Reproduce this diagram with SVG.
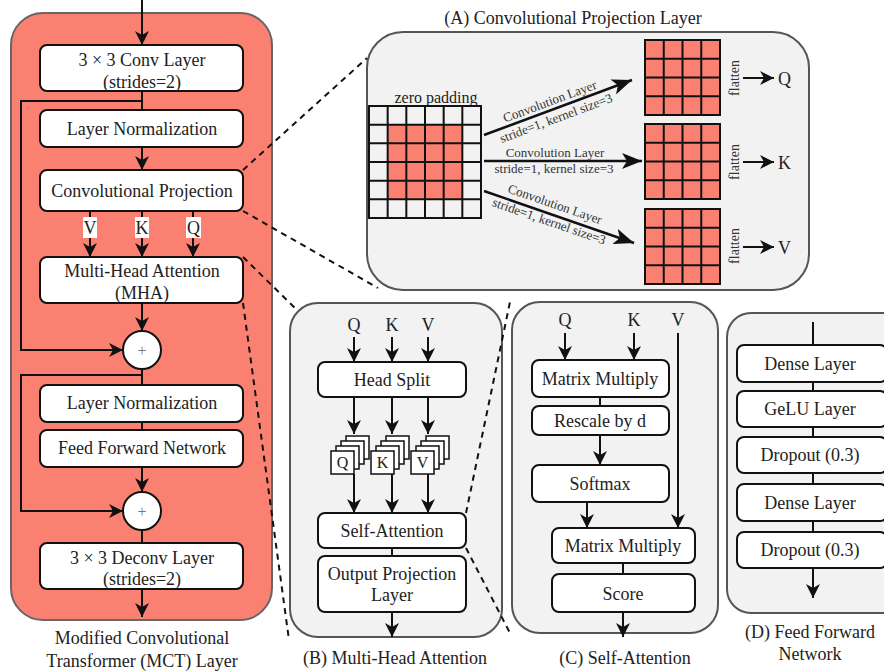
<svg xmlns="http://www.w3.org/2000/svg" width="884" height="671" viewBox="0 0 884 671">
<defs>
<style>
text{font-family:"Liberation Serif","Times New Roman",serif;font-size:18px;fill:#222;text-anchor:middle}
.box{fill:#fff;stroke:#111;stroke-width:2}
.panel{fill:#f2f2f2;stroke:#555;stroke-width:2}
.ln{fill:none;stroke:#111;stroke-width:2}
.arr{fill:none;stroke:#111;stroke-width:2;marker-end:url(#ah)}
.big{fill:none;stroke:#111;stroke-width:2.5;marker-end:url(#ahb)}
.dash{fill:none;stroke:#111;stroke-width:2;stroke-dasharray:6 5}
.sm{font-size:13px;fill:#333}
.grid{fill:none;stroke:#111;stroke-width:2}
.sq{fill:#fff;stroke:#111;stroke-width:1.5}
</style>
<marker id="ah" viewBox="0 0 14 14" refX="14" refY="7" markerWidth="14" markerHeight="14" markerUnits="userSpaceOnUse" orient="auto"><path d="M0,0 L14,7 L0,14 L4,7 z" fill="#111"/></marker>
<marker id="ahb" viewBox="0 0 20 16" refX="20" refY="8" markerWidth="20" markerHeight="16" markerUnits="userSpaceOnUse" orient="auto"><path d="M0,0 L20,8 L0,16 L5,8 z" fill="#111"/></marker>
<g id="stack">
<rect class="sq" x="15" y="-15" width="23" height="23"/>
<rect class="sq" x="10" y="-10" width="23" height="23"/>
<rect class="sq" x="5" y="-5" width="23" height="23"/>
<rect class="sq" x="0" y="0" width="23" height="23"/>
</g>
</defs>

<!-- Left panel: MCT layer -->
<g id="mct-panel">
<rect x="11" y="13" width="261" height="607" rx="32" fill="#FA8072" stroke="#666" stroke-width="2"/>
<text x="142" y="644">Modified Convolutional</text>
<text x="142" y="667">Transformer (MCT) Layer</text>
</g>
<g id="connectors-left">
<path class="arr" d="M142,0 V45"/>
<path class="ln" d="M142,91 V110"/>
<path class="arr" d="M142,91 V101 H21 V350 H123"/>
<path class="arr" d="M142,147 V170"/>
<path class="arr" d="M90,211 V257"/>
<path class="arr" d="M142,211 V257"/>
<path class="arr" d="M193,211 V257"/>
<path class="arr" d="M142,303 V331"/>
<path class="ln" d="M142,369 V385"/>
<path class="arr" d="M142,369 V375 H21 V511 H123"/>
<path class="ln" d="M142,422 V430"/>
<path class="arr" d="M142,467 V492"/>
<path class="ln" d="M142,530 V543"/>
<path class="arr" d="M142,589 V617"/>
<rect x="83" y="217" width="14" height="21" fill="#fff"/>
<rect x="135" y="217" width="14" height="21" fill="#fff"/>
<rect x="186" y="217" width="15" height="21" fill="#fff"/>
<text x="90" y="234">V</text>
<text x="142" y="234">K</text>
<text x="193.5" y="234">Q</text>
</g>
<g id="conv-layer"><rect class="box" x="40" y="45" width="203" height="46" rx="7"/><text x="142" y="66">3 × 3 Conv Layer</text><text x="142" y="88">(strides=2)</text></g>
<g id="ln1"><rect class="box" x="40" y="110" width="203" height="37" rx="7"/><text x="142" y="135">Layer Normalization</text></g>
<g id="conv-proj"><rect class="box" x="40" y="170" width="203" height="41" rx="7"/><text x="142" y="197">Convolutional Projection</text></g>
<g id="mha"><rect class="box" x="40" y="257" width="203" height="46" rx="7"/><text x="142" y="277">Multi-Head Attention</text><text x="142" y="299">(MHA)</text></g>
<g id="add1"><circle cx="142" cy="350" r="19" fill="#fff" stroke="#111" stroke-width="2"/><text x="142" y="356" style="font-size:16px;fill:#777">+</text></g>
<g id="ln2"><rect class="box" x="40" y="385" width="203" height="37" rx="7"/><text x="142" y="409">Layer Normalization</text></g>
<g id="ffn"><rect class="box" x="40" y="430" width="203" height="37" rx="7"/><text x="142" y="454">Feed Forward Network</text></g>
<g id="add2"><circle cx="142" cy="511" r="19" fill="#fff" stroke="#111" stroke-width="2"/><text x="142" y="517" style="font-size:16px;fill:#777">+</text></g>
<g id="deconv"><rect class="box" x="40" y="543" width="203" height="46" rx="7"/><text x="142" y="564">3 × 3 Deconv Layer</text><text x="142" y="585">(strides=2)</text></g>

<!-- Panel A -->
<g id="panel-a">
<text x="573" y="24">(A) Convolutional Projection Layer</text>
<rect class="panel" x="367" y="32" width="442" height="258" rx="36"/>
<text x="436" y="103" style="font-size:16px">zero padding</text>
<rect x="369" y="106" width="112" height="112" fill="#f2f2f2"/>
<rect x="387.67" y="124.67" width="74.67" height="74.67" fill="#FA8072"/>
<path class="grid" d="M369,106 H481 V218 H369 Z M387.67,106 V218 M406.33,106 V218 M425,106 V218 M443.67,106 V218 M462.33,106 V218 M369,124.67 H481 M369,143.33 H481 M369,162 H481 M369,180.67 H481 M369,199.33 H481"/>
<g id="grid-q"><rect x="645" y="40" width="75" height="75" fill="#FA8072"/><path class="grid" d="M645,40 H720 V115 H645 Z M663.75,40 V115 M682.5,40 V115 M701.25,40 V115 M645,58.75 H720 M645,77.5 H720 M645,96.25 H720"/></g>
<g id="grid-k"><rect x="645" y="124" width="75" height="75" fill="#FA8072"/><path class="grid" d="M645,124 H720 V199 H645 Z M663.75,124 V199 M682.5,124 V199 M701.25,124 V199 M645,142.75 H720 M645,161.5 H720 M645,180.25 H720"/></g>
<g id="grid-v"><rect x="645" y="209" width="75" height="75" fill="#FA8072"/><path class="grid" d="M645,209 H720 V284 H645 Z M663.75,209 V284 M682.5,209 V284 M701.25,209 V284 M645,227.75 H720 M645,246.5 H720 M645,265.25 H720"/></g>
<path class="big" d="M484,135 L632,80"/>
<path class="big" d="M484,161 L642,161"/>
<path class="big" d="M484,191 L634,243"/>
<g transform="translate(553,110) rotate(-20.4)"><text class="sm" x="0" y="-5">Convolution Layer</text><text class="sm" x="0" y="13">stride=1, kernel size=3</text></g>
<text class="sm" x="555" y="157">Convolution Layer</text>
<text class="sm" x="554" y="173">stride=1, kernel size=3</text>
<g transform="translate(552,213) rotate(19.1)"><text class="sm" x="0" y="-5">Convolution Layer</text><text class="sm" x="0" y="13">stride=1, kernel size=3</text></g>
<text transform="translate(739,78) rotate(-90)" style="font-size:14px;fill:#333">flatten</text>
<text transform="translate(739,162) rotate(-90)" style="font-size:14px;fill:#333">flatten</text>
<text transform="translate(739,246) rotate(-90)" style="font-size:14px;fill:#333">flatten</text>
<path class="arr" d="M743,78 H774"/>
<path class="arr" d="M743,162 H774"/>
<path class="arr" d="M743,247 H774"/>
<text x="778" y="85" style="text-anchor:start">Q</text>
<text x="778" y="169" style="text-anchor:start">K</text>
<text x="778" y="254" style="text-anchor:start">V</text>
</g>

<!-- Panel B -->
<g id="panel-b">
<rect class="panel" x="290" y="303" width="212" height="334" rx="28"/>
<text x="395" y="664">(B) Multi-Head Attention</text>
<text x="354" y="331">Q</text><text x="392" y="331">K</text><text x="428" y="331">V</text>
</g>
<g id="connectors-b">
<path class="arr" d="M354,337 V362"/><path class="arr" d="M392,337 V362"/><path class="arr" d="M428,337 V362"/>
<path class="arr" d="M354,397 V434"/><path class="arr" d="M392,397 V434"/><path class="arr" d="M428,397 V434"/>
<path class="arr" d="M354,474 V513"/><path class="arr" d="M392,474 V513"/><path class="arr" d="M428,474 V513"/>
<path class="ln" d="M392,548 V556"/>
<path class="arr" d="M392,612 V637"/>
</g>
<g id="head-split"><rect class="box" x="318" y="362" width="148" height="35" rx="7"/><text x="392" y="386">Head Split</text></g>
<g id="stack-q"><use href="#stack" x="331" y="451"/><text x="342.5" y="468" style="font-size:16px">Q</text></g>
<g id="stack-k"><use href="#stack" x="371" y="451"/><text x="382.5" y="468" style="font-size:16px">K</text></g>
<g id="stack-v"><use href="#stack" x="411" y="451"/><text x="422.5" y="468" style="font-size:16px">V</text></g>
<g id="self-attention-b"><rect class="box" x="318" y="513" width="148" height="35" rx="7"/><text x="392" y="537">Self-Attention</text></g>
<g id="output-proj"><rect class="box" x="318" y="556" width="148" height="56" rx="7"/><text x="392" y="580">Output Projection</text><text x="392" y="601">Layer</text></g>

<!-- Panel C -->
<g id="panel-c">
<rect class="panel" x="512" y="302" width="206" height="331" rx="28"/>
<text x="625" y="664">(C) Self-Attention</text>
<text x="565" y="326">Q</text><text x="634" y="326">K</text><text x="678" y="326">V</text>
</g>
<g id="connectors-c">
<path class="arr" d="M565,333 V360"/><path class="arr" d="M634,333 V360"/>
<path class="arr" d="M678,333 V528"/>
<path class="ln" d="M600,397 V406"/>
<path class="arr" d="M600,435 V465"/>
<path class="arr" d="M587,502 V528"/>
<path class="ln" d="M623,563 V574"/>
<path class="arr" d="M623,612 V637"/>
</g>
<g id="matmul1"><rect class="box" x="532" y="360" width="137" height="37" rx="7"/><text x="600" y="385">Matrix Multiply</text></g>
<g id="rescale"><rect class="box" x="532" y="406" width="137" height="29" rx="7"/><text x="600" y="427">Rescale by d</text></g>
<g id="softmax"><rect class="box" x="532" y="465" width="137" height="37" rx="7"/><text x="600" y="490">Softmax</text></g>
<g id="matmul2"><rect class="box" x="552" y="528" width="143" height="35" rx="7"/><text x="623" y="552">Matrix Multiply</text></g>
<g id="score"><rect class="box" x="552" y="574" width="143" height="38" rx="7"/><text x="623" y="600">Score</text></g>

<!-- Panel D -->
<g id="panel-d">
<rect class="panel" x="727" y="313" width="180" height="300" rx="24"/>
<text x="810" y="638">(D) Feed Forward</text>
<text x="810" y="660">Network</text>
</g>
<g id="connectors-d">
<path class="ln" d="M813,322 V345"/>
<path class="ln" d="M813,382 V391"/>
<path class="ln" d="M813,427 V437"/>
<path class="ln" d="M813,473 V484"/>
<path class="ln" d="M813,521 V532"/>
<path class="arr" d="M813,568 V598"/>
</g>
<g id="dense1"><rect class="box" x="737" y="345" width="150" height="37" rx="7"/><text x="810" y="370">Dense Layer</text></g>
<g id="gelu"><rect class="box" x="737" y="391" width="150" height="36" rx="7"/><text x="810" y="415">GeLU Layer</text></g>
<g id="dropout1"><rect class="box" x="737" y="437" width="150" height="36" rx="7"/><text x="810" y="461">Dropout (0.3)</text></g>
<g id="dense2"><rect class="box" x="737" y="484" width="150" height="37" rx="7"/><text x="810" y="509">Dense Layer</text></g>
<g id="dropout2"><rect class="box" x="737" y="532" width="150" height="36" rx="7"/><text x="810" y="556">Dropout (0.3)</text></g>

<!-- Zoom dashed lines (drawn on top) -->
<g id="connectors-dashed">
<path class="dash" d="M243,170 L367,58"/>
<path class="dash" d="M243,211 L378,288"/>
<path class="dash" d="M243,257 L297,310"/>
<path class="dash" d="M243,303 L289,640"/>
<path class="dash" d="M466,513 L510,302"/>
<path class="dash" d="M466,548 L511,635"/>
</g>
</svg>
